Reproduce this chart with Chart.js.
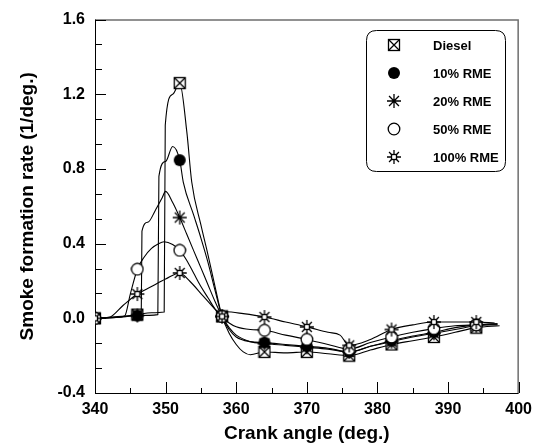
<!DOCTYPE html>
<html><head><meta charset="utf-8">
<script src="https://cdn.jsdelivr.net/npm/chart.js@4/dist/chart.umd.min.js"></script>
<style>html,body{margin:0;padding:0;background:#fff}#wrap{width:539px;height:448px}</style>
</head><body><div id="wrap"><canvas id="c" width="539" height="448"></canvas></div>
<script>
// ---- Data ----
const seriesNames = ['Diesel', '10% RME', '20% RME', '50% RME', '100% RME'];
const markerAngles = [340, 346, 352, 358, 364, 370, 376, 382, 388, 394];
const dieselMarks = [0.0, 0.02, 1.26, 0.01, -0.18, -0.18, -0.20, -0.14, -0.10, -0.05];
const rme10Marks  = [0.0, 0.015, 0.847, 0.01, -0.13, -0.15, -0.18, -0.12, -0.075, -0.035];
const rme20Marks  = [0.0, 0.015, 0.54, 0.01, -0.135, -0.155, -0.18, -0.125, -0.08, -0.04];
const rme50Marks  = [0.0, 0.263, 0.364, 0.01, -0.064, -0.113, -0.165, -0.10, -0.055, -0.035];
const rme100Marks = [0.0, 0.13, 0.243, 0.01, 0.007, -0.046, -0.145, -0.06, -0.02, -0.02];

const dieselCurve = [[340,0],[343,0.005],[346,0.02],[348,0.03],[349.8,0.034],[349.95,1.035],[351,1.2],[352,1.26],[353,1.0],[353.7,0.73],[355,0.5],[356,0.34],[357,0.17],[358,0.01],[359,-0.08],[360,-0.14],[361,-0.18],[362,-0.195],[364,-0.18],[367,-0.185],[370,-0.18],[373,-0.19],[376,-0.2],[379,-0.17],[382,-0.14],[385,-0.12],[388,-0.1],[391,-0.075],[394,-0.05],[397.3,-0.04]];
const rme10Curve = [[340,0],[346,0.015],[348.9,0.02],[349.05,0.76],[350,0.84],[351,0.92],[352,0.847],[352.5,0.73],[354,0.55],[355,0.43],[356,0.3],[357,0.15],[358,0.01],[359,-0.06],[360,-0.1],[362,-0.125],[364,-0.13],[367,-0.14],[370,-0.15],[373,-0.16],[376,-0.18],[379,-0.15],[382,-0.12],[385,-0.095],[388,-0.075],[391,-0.05],[394,-0.035],[397,-0.03]];
const rme20Curve = [[340,0],[344,0.008],[346,0.015],[346.55,0.02],[346.65,0.467],[347.5,0.515],[348.5,0.575],[349.5,0.645],[350,0.68],[351,0.62],[352,0.54],[353,0.45],[354,0.36],[355,0.27],[356,0.18],[357,0.09],[358,0.01],[359,-0.05],[360,-0.09],[362,-0.125],[364,-0.135],[367,-0.145],[370,-0.155],[373,-0.165],[376,-0.18],[379,-0.15],[382,-0.125],[385,-0.1],[388,-0.08],[391,-0.06],[394,-0.04],[397,-0.035]];
const rme50Curve = [[340,0],[343,0.004],[344.2,0.012],[345,0.13],[346,0.263],[347,0.33],[348,0.375],[349,0.4],[349.8,0.41],[351,0.395],[352,0.364],[353,0.31],[354,0.24],[355,0.17],[356,0.11],[357,0.05],[358,0.01],[359,-0.025],[360,-0.045],[362,-0.06],[364,-0.064],[367,-0.09],[370,-0.113],[373,-0.14],[376,-0.165],[379,-0.13],[382,-0.1],[385,-0.075],[388,-0.055],[391,-0.04],[394,-0.035],[397,-0.03]];
const rme100Curve = [[340,0],[342,0.005],[344,0.07],[346,0.13],[348,0.17],[350,0.21],[352,0.243],[353.4,0.2],[355.3,0.12],[357.2,0.04],[358,0.01],[358.5,0.035],[361,0.025],[364,0.007],[367,-0.02],[370,-0.046],[373,-0.075],[374.7,-0.09],[376,-0.145],[378.9,-0.115],[382,-0.06],[385,-0.035],[388,-0.02],[391,-0.02],[394,-0.02],[396.6,-0.025]];

const xTickLabels = [340, 350, 360, 370, 380, 390, 400];
const yTickLabels = [-0.4, 0.0, 0.4, 0.8, 1.2, 1.6];

// ---- Marker glyphs ----
function glyph(size, draw) {
  const c = document.createElement('canvas');
  c.width = size; c.height = size;
  const g = c.getContext('2d');
  g.strokeStyle = '#000'; g.fillStyle = '#000'; g.lineWidth = 1.3;
  draw(g, size / 2);
  return c;
}
const gDiesel = glyph(14, (g, m) => {
  g.fillStyle = '#fff'; g.fillRect(1.5, 1.5, 11, 11);
  g.strokeRect(1.5, 1.5, 11, 11);
  g.beginPath(); g.moveTo(1.5, 1.5); g.lineTo(12.5, 12.5); g.moveTo(12.5, 1.5); g.lineTo(1.5, 12.5); g.stroke();
});
const gFilled = glyph(14, (g, m) => { g.beginPath(); g.arc(m, m, 6, 0, Math.PI * 2); g.fill(); });
const gStar = glyph(16, (g, m) => {
  g.beginPath();
  for (let i = 0; i < 4; i++) {
    const a = i * Math.PI / 4, r = 7;
    g.moveTo(m - r * Math.cos(a), m - r * Math.sin(a)); g.lineTo(m + r * Math.cos(a), m + r * Math.sin(a));
  }
  g.stroke();
});
const gOpen = glyph(14, (g, m) => {
  g.beginPath(); g.arc(m, m, 5.8, 0, Math.PI * 2); g.fillStyle = '#fff'; g.fill(); g.stroke();
});
const gSun = glyph(16, (g, m) => {
  g.fillStyle = '#fff'; g.fillRect(m - 2.5, m - 2.5, 5, 5);
  g.strokeRect(m - 2.5, m - 2.5, 5, 5);
  g.beginPath();
  for (let i = 0; i < 8; i++) {
    const a = i * Math.PI / 4;
    g.moveTo(m + 2.5 * Math.cos(a), m + 2.5 * Math.sin(a)); g.lineTo(m + 7 * Math.cos(a), m + 7 * Math.sin(a));
  }
  g.stroke();
});

const curves = [dieselCurve, rme10Curve, rme20Curve, rme50Curve, rme100Curve];
const marks = [dieselMarks, rme10Marks, rme20Marks, rme50Marks, rme100Marks];
const glyphs = [gDiesel, gFilled, gStar, gOpen, gSun];

const datasets = [];
curves.forEach((cv, i) => datasets.push({
  label: seriesNames[i] + ' curve', data: cv.map(p => ({x: p[0], y: p[1]})),
  showLine: true, borderColor: '#000', borderWidth: 1.1, pointRadius: 0,
  cubicInterpolationMode: 'monotone', fill: false, order: 10
}));
marks.forEach((mk, i) => datasets.push({
  label: seriesNames[i], data: markerAngles.map((x, j) => ({x: x, y: mk[j]})),
  showLine: false, pointStyle: glyphs[i], pointRadius: 6, order: 5 - i
}));

const FONT = 'Liberation Sans, Arial, sans-serif';

const decor = {
  id: 'decor',
  beforeDatasetsDraw(chart) {
    const {ctx, chartArea: a, scales: {x, y}} = chart;
    ctx.save();
    ctx.strokeStyle = '#6e6e6e'; ctx.lineWidth = 1.5;
    ctx.beginPath(); ctx.moveTo(a.left, a.top + 0.5); ctx.lineTo(a.right - 0.5, a.top + 0.5); ctx.lineTo(a.right - 0.5, a.bottom); ctx.stroke();
    ctx.strokeStyle = '#000'; ctx.lineWidth = 1;
    ctx.beginPath(); ctx.moveTo(a.left + 0.5, a.top); ctx.lineTo(a.left + 0.5, a.bottom + 0.5); ctx.lineTo(a.right, a.bottom + 0.5); ctx.stroke();
    ctx.beginPath();
    for (let v = 340; v <= 400; v += 5) {
      const px = Math.round(x.getPixelForValue(v)) + 0.5;
      const len = (v % 10 === 0) ? 11 : 5;
      ctx.moveTo(px, a.bottom); ctx.lineTo(px, a.bottom - len);
    }
    for (let k = 0; k <= 15; k++) {
      const v = -0.4 + k * 0.4 / 3;
      const py = Math.round(y.getPixelForValue(v)) + 0.5;
      const len = (k % 3 === 0) ? 11 : 7;
      ctx.moveTo(a.left, py); ctx.lineTo(a.left + len, py);
    }
    ctx.stroke();
    ctx.restore();
  },
  afterDraw(chart) {
    const {ctx} = chart;
    ctx.save();
    const bx = 366.5, by = 30.5, bw = 139, bh = 141, r = 10;
    ctx.strokeStyle = '#000'; ctx.lineWidth = 1; ctx.fillStyle = '#fff';
    ctx.beginPath();
    ctx.moveTo(bx + r, by); ctx.lineTo(bx + bw - r, by); ctx.quadraticCurveTo(bx + bw, by, bx + bw, by + r);
    ctx.lineTo(bx + bw, by + bh - r); ctx.quadraticCurveTo(bx + bw, by + bh, bx + bw - r, by + bh);
    ctx.lineTo(bx + r, by + bh); ctx.quadraticCurveTo(bx, by + bh, bx, by + bh - r);
    ctx.lineTo(bx, by + r); ctx.quadraticCurveTo(bx, by, bx + r, by);
    ctx.closePath(); ctx.fill(); ctx.stroke();
    const rows = [45, 73, 101, 129, 157];
    ctx.fillStyle = '#000'; ctx.font = 'bold 13px ' + FONT; ctx.textBaseline = 'middle'; ctx.textAlign = 'left';
    seriesNames.forEach((n, i) => {
      const gl = glyphs[i];
      ctx.drawImage(gl, Math.round(394 - gl.width / 2), Math.round(rows[i] - gl.height / 2));
      ctx.fillText(n, 433, rows[i] + 1);
    });
    ctx.restore();
  }
};

new Chart(document.getElementById('c'), {
  type: 'scatter',
  data: {datasets},
  options: {
    responsive: false, animation: false, devicePixelRatio: 1,
    layout: {padding: {top: 16, right: 20, left: 0, bottom: 0}},
    plugins: {legend: {display: false}, tooltip: {enabled: false}},
    scales: {
      x: {
        type: 'linear', min: 340, max: 400,
        afterFit: s => { s.height = 55; },
        afterBuildTicks: s => { s.ticks = xTickLabels.map(v => ({value: v})); },
        ticks: {stepSize: 10, maxRotation: 0, padding: 7, color: '#000', font: {family: FONT, size: 16, weight: 'bold'}},
        grid: {display: false, drawTicks: false}, border: {display: false},
        title: {display: true, text: 'Crank angle (deg.)', color: '#000', font: {family: FONT, size: 19, weight: 'bold'}, padding: {top: 0, bottom: 3}}
      },
      y: {
        type: 'linear', min: -0.4, max: 1.6,
        afterFit: s => { s.width = 95; },
        afterBuildTicks: s => { s.ticks = yTickLabels.map(v => ({value: v})); },
        ticks: {stepSize: 0.4, padding: 10, color: '#000', font: {family: FONT, size: 16, weight: 'bold'},
          callback: v => (Math.abs(v) < 1e-9 ? 0 : v).toFixed(1)},
        grid: {display: false, drawTicks: false}, border: {display: false},
        title: {display: true, text: 'Smoke formation rate (1/deg.)', color: '#000', font: {family: FONT, size: 19, weight: 'bold'}, padding: {top: 16, bottom: 0}}
      }
    }
  },
  plugins: [decor]
});
</script></body></html>
